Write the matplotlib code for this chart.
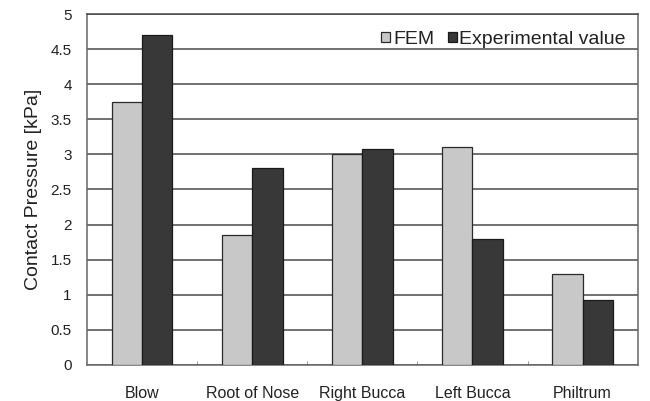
"""Contact pressure: FEM vs experimental value."""
from matplotlib import pyplot as plt
import numpy as np

categories = ["Blow", "Root of Nose", "Right Bucca", "Left Bucca", "Philtrum"]
fem = [3.75, 1.85, 3.0, 3.1, 1.3]
experimental = [4.7, 2.8, 3.08, 1.8, 0.92]
yticks = [0, 0.5, 1, 1.5, 2, 2.5, 3, 3.5, 4, 4.5, 5]

plt.rcParams["font.family"] = ["Liberation Sans", "DejaVu Sans"]

fig = plt.figure(figsize=(6.5, 4.01), dpi=100)
ax = fig.add_axes([0.134, 0.09, 0.847, 0.875])

x = np.arange(len(categories))
w = 0.275
ax.bar(x - w / 2, fem, w, color="#c8c8c8", edgecolor="#2a2a2a",
       linewidth=0.9, label="FEM", zorder=3)
ax.bar(x + w / 2, experimental, w, color="#383838", edgecolor="#1a1a1a",
       linewidth=0.9, label="Experimental value", zorder=3)

ax.set_xlim(-0.5, len(categories) - 0.5)
ax.set_ylim(0, 5)
ax.set_yticks(yticks)
ax.set_yticklabels([f"{v:g}" for v in yticks], fontsize=11, color="#222222")
ax.set_xticks(x)
ax.set_xticklabels(categories, fontsize=11.5, color="#222222")
ax.set_xticks(np.arange(len(categories) - 1) + 0.5, minor=True)
ax.tick_params(axis="x", which="major", length=0, pad=15)
ax.tick_params(axis="x", which="minor", length=3, direction="in",
               color="#888888")
ax.tick_params(axis="y", length=0, pad=11)
ax.set_ylabel("Contact Pressure [kPa]", fontsize=14, labelpad=6,
              color="#222222")

ax.grid(axis="y", color="#4a4a4a", linewidth=1.1, zorder=0)
for s in ax.spines.values():
    s.set_color("#666666")
    s.set_linewidth(1.1)
ax.spines["top"].set_color("#4a4a4a")

leg = ax.legend(loc="upper right", frameon=False, fontsize=14,
                handlelength=0.45, handleheight=0.45, handletextpad=0.15,
                columnspacing=0.7, ncol=2, borderaxespad=0.2,
                bbox_to_anchor=(1.0, 0.985))
for t in leg.get_texts():
    t.set_color("#222222")

fig.savefig("out.png", dpi=100)
